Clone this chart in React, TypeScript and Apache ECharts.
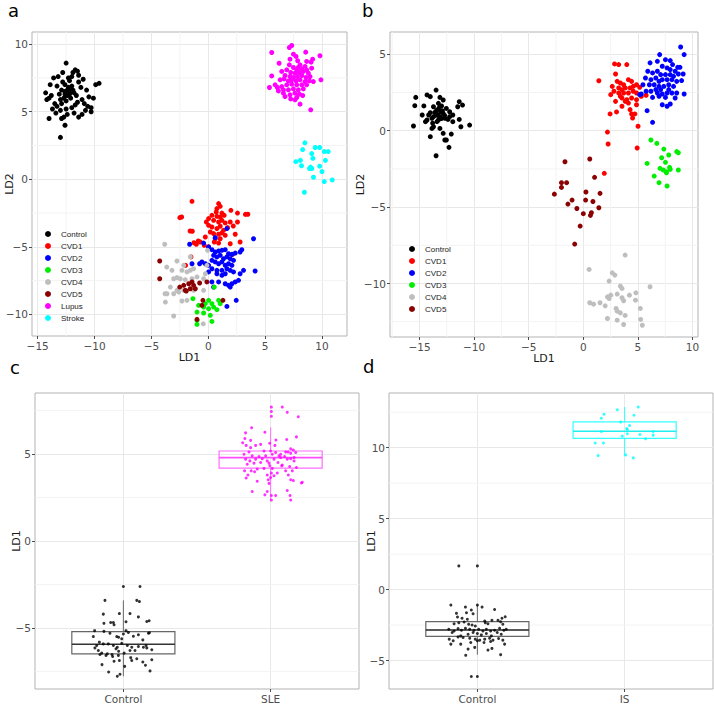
import React, { useEffect, useRef } from 'react';
import * as echarts from 'echarts';

// ---------- Panel a (LD1 vs LD2, 8 groups) ----------
const aControl = [[-12.5,8.6],[-13.0,3.1],[-14.0,4.5],[-12.6,4.0],[-9.6,7.1],[-9.9,7.0],[-11.5,8.0],[-11.4,7.7],[-10.3,5.0],[-10.3,5.3],[-14.3,6.4],[-14.2,5.9],[-13.6,7.5],[-12.8,7.9],[-12.0,7.6],[-11.4,4.6],[-11.1,4.8],[-10.8,5.1],[-12.9,4.5],[-13.3,5.4],[-13.7,5.2],[-11.7,5.5],[-11.1,5.9],[-10.5,6.1],[-10.7,6.6],[-11.2,6.8],[-12.6,6.5],[-12.4,6.2],[-12.2,6.4],[-12.7,6.0],[-12.3,6.8],[-12.9,6.6],[-12.1,6.0],[-12.5,5.8],[-13.1,6.3],[-11.9,6.6],[-12.8,7.2],[-12.2,7.3],[-13.3,6.9],[-13.8,6.2],[-11.6,6.2],[-11.4,7.2],[-13.5,5.6],[-12.0,5.3],[-12.4,4.8],[-13.0,5.1],[-11.8,4.9],[-10.9,5.6],[-10.1,6.0],[-11.9,7.9],[-12.3,7.5],[-13.9,7.0],[-14.0,6.0],[-13.4,4.9],[-11.0,7.4],[-12.6,7.0],[-12.0,6.9],[-12.9,5.6],[-11.5,5.7],[-12.5,5.2],[-13.2,7.6],[-11.7,8.1],[-10.6,5.4],[-12.7,4.6],[-12.2,6.3],[-12.4,6.6],[-12.6,6.3],[-12.1,6.7],[-11.8,6.4],[-13.0,5.9]];
const aCVD1 = [[-1.43,-1.63],[0.91,-1.8],[1.05,-2.0],[0.76,-2.17],[0.7,-2.42],[1.2,-2.5],[0.32,-2.67],[0.76,-2.74],[1.05,-2.79],[1.4,-2.67],[1.99,-2.3],[2.57,-2.5],[3.48,-2.59],[0.47,-3.04],[0.03,-2.91],[-0.17,-3.16],[0.91,-3.16],[1.2,-3.04],[1.49,-3.23],[1.93,-3.16],[2.57,-3.16],[0.03,-3.41],[0.32,-3.53],[0.76,-3.65],[1.05,-3.48],[1.34,-3.78],[1.7,-3.58],[0.18,-3.9],[0.47,-4.02],[0.91,-4.07],[1.2,-3.97],[1.49,-4.15],[0.61,-4.4],[1.05,-4.4],[0.53,-4.64],[0.91,-4.72],[2.37,-4.07],[2.8,-4.64],[1.93,-4.77],[-0.26,-4.27],[-0.7,-4.64],[-1.05,-4.81],[-1.4,-3.85],[-2.34,-2.79],[0.03,-5.0],[-0.35,-4.89],[-1.52,-5.75],[-1.99,-6.37],[2.13,-5.56],[2.2,-3.46],[3.27,-2.6],[-2.5,-2.84],[-1.6,-3.83],[-1.26,-4.7],[-0.88,-4.57]];
const aCVD2 = [[1.64,-3.65],[0.61,-4.32],[-1.64,-4.81],[-0.41,-4.72],[0.03,-5.01],[0.32,-5.21],[0.61,-5.38],[0.91,-5.31],[1.2,-5.26],[1.49,-5.21],[1.78,-5.51],[2.08,-5.56],[2.37,-5.46],[2.8,-5.38],[2.95,-5.21],[3.98,-4.4],[0.47,-5.63],[0.76,-5.75],[1.05,-5.63],[1.34,-5.88],[1.64,-5.75],[1.93,-5.88],[2.22,-6.0],[0.32,-6.0],[0.61,-6.12],[0.91,-6.25],[1.2,-6.12],[1.49,-6.37],[1.78,-6.25],[2.08,-6.37],[0.03,-6.37],[-0.26,-6.25],[-0.56,-6.12],[0.32,-6.62],[0.76,-6.74],[1.2,-6.74],[1.64,-6.62],[1.93,-6.74],[2.22,-6.86],[0.76,-6.99],[1.2,-7.11],[1.49,-6.99],[3.1,-6.74],[4.12,-6.79],[2.8,-6.99],[-1.43,-6.25],[-0.76,-6.25],[0.03,-6.86],[0.32,-7.6],[0.91,-7.6],[1.49,-7.73],[1.78,-7.85],[2.08,-7.73],[2.37,-7.6],[2.66,-7.48],[1.93,-7.98],[0.47,-7.98],[2.46,-8.96],[1.64,-9.41]];
const aCVD3 = [[0.53,-7.98],[-1.35,-8.84],[0.03,-8.96],[0.32,-9.21],[0.91,-8.96],[1.05,-9.21],[-0.85,-9.33],[-0.41,-9.46],[0.03,-9.58],[0.47,-9.46],[0.76,-9.65],[-0.99,-9.83],[-0.41,-9.9],[0.18,-10.07],[-0.99,-10.44],[0.32,-10.52],[-0.99,-10.74],[-0.26,-9.21]];
const aCVD4 = [[-3.83,-4.81],[-2.75,-6.05],[-3.19,-6.74],[-2.31,-6.74],[-1.87,-6.86],[-1.58,-6.74],[-1.29,-6.62],[-2.75,-7.28],[-3.04,-7.36],[-2.46,-7.36],[-2.02,-7.43],[-1.43,-7.36],[-0.99,-7.23],[-0.41,-7.36],[-0.26,-6.99],[-3.33,-7.98],[-2.75,-8.22],[-3.63,-8.47],[-3.04,-8.47],[-2.6,-8.35],[-2.16,-8.22],[-3.77,-9.09],[-2.31,-9.01],[-1.87,-8.96],[-1.29,-8.22],[-3.04,-10.12],[-0.41,-8.22],[-0.06,-5.26],[-1.58,-5.75],[-2.16,-6.37],[-0.12,-6.37],[-3.65,-6.5],[-3.8,-8.47],[-0.44,-10.7]];
const aCVD5 = [[-4.27,-6.05],[-4.27,-7.36],[-2.51,-7.98],[-2.02,-8.22],[-1.72,-7.73],[-1.43,-7.6],[-1.29,-7.85],[-1.58,-8.1],[-1.14,-8.1],[-0.76,-7.68],[-0.12,-7.6],[-0.47,-8.96],[1.29,-8.96],[-0.56,-9.33],[-0.99,-10.37],[-1.93,-8.27],[-2.16,-7.85]];
const aLupus = [[7.34,9.9],[7.13,9.75],[5.58,9.38],[7.49,9.26],[8.57,9.41],[9.82,9.14],[7.72,9.09],[7.19,8.89],[7.86,8.77],[9.18,8.89],[9.04,8.67],[6.23,8.59],[7.13,8.47],[8.07,8.47],[8.51,8.35],[7.49,8.27],[6.9,8.1],[7.78,8.1],[8.22,8.17],[8.65,8.1],[9.09,8.22],[6.46,7.98],[7.25,7.9],[7.63,7.85],[8.01,7.9],[8.36,7.98],[8.8,7.85],[5.58,7.65],[6.75,7.68],[7.19,7.6],[7.49,7.53],[7.84,7.6],[8.22,7.68],[8.6,7.53],[8.95,7.6],[6.32,7.36],[6.67,7.43],[7.05,7.28],[7.34,7.36],[7.72,7.28],[8.07,7.36],[8.51,7.23],[8.89,7.28],[9.91,7.36],[5.38,6.79],[6.08,6.79],[6.46,6.86],[6.9,6.99],[7.34,7.04],[7.78,6.99],[8.22,6.99],[8.65,6.99],[6.17,6.54],[6.61,6.62],[7.05,6.62],[7.49,6.69],[7.92,6.62],[8.36,6.69],[6.61,6.37],[7.19,6.25],[7.63,6.37],[8.01,6.3],[6.75,6.12],[7.25,5.95],[7.78,6.05],[8.3,6.2],[7.63,5.88],[8.07,5.56],[9.01,5.14],[5.88,6.99],[9.24,7.23],[8.65,8.72],[7.92,8.27]];
const aStroke = [[8.5,2.7],[9.4,2.35],[9.8,2.35],[10.2,2.05],[10.55,2.05],[8.3,2.2],[9.1,1.9],[8.1,1.4],[7.7,1.3],[9.2,1.55],[10.3,1.4],[8.2,1.0],[9.0,0.9],[9.1,0.8],[8.9,0.8],[9.8,0.97],[10.0,0.57],[9.25,0.15],[10.2,-0.17],[10.9,-0.05],[8.45,-0.96]];
const aGroups = ['Control', 'CVD1', 'CVD2', 'CVD3', 'CVD4', 'CVD5', 'Lupus', 'Stroke'];
const aData = [aControl, aCVD1, aCVD2, aCVD3, aCVD4, aCVD5, aLupus, aStroke];

// ---------- Panel b (LD1 vs LD2, 6 groups) ----------
const bControl = [[-13.48,2.66],[-14.31,2.34],[-14.01,2.23],[-15.34,2.18],[-13.13,2.18],[-12.83,2.01],[-15.43,1.64],[-14.6,1.62],[-11.36,1.9],[-11.06,1.68],[-11.5,1.57],[-13.27,1.79],[-12.98,1.62],[-13.72,1.57],[-12.54,1.46],[-13.42,1.35],[-14.01,1.18],[-12.83,1.14],[-12.24,1.24],[-13.47,1.03],[-13.13,0.92],[-13.86,0.81],[-12.68,0.81],[-14.31,0.7],[-13.27,0.7],[-12.39,0.74],[-11.36,0.74],[-14.45,0.59],[-11.95,0.59],[-15.55,0.31],[-13.72,0.26],[-13.13,0.15],[-10.41,0.37],[-11.21,0.26],[-13.86,0.15],[-12.83,-0.17],[-12.09,-0.22],[-14.01,-0.39],[-12.68,-0.61],[-12.54,-0.61],[-12.3,-1.09],[-13.48,-1.64],[-13.72,0.92],[-13.42,1.09],[-13.07,1.24],[-14.16,1.03],[-12.24,0.92],[-11.95,1.03],[-14.75,1.03],[-13.3,1.0],[-13.0,0.8],[-13.6,1.2],[-12.9,1.3],[-13.4,0.6],[-13.8,0.5],[-13.2,1.5],[-12.7,1.0]];
const bCVD1 = [[1.42,3.27],[2.86,4.37],[3.24,4.33],[3.98,4.33],[2.95,3.71],[2.65,2.9],[3.1,3.23],[3.39,3.12],[3.69,3.01],[4.13,3.34],[4.42,3.23],[3.24,2.8],[3.54,2.68],[3.84,2.8],[4.28,2.8],[4.57,2.9],[4.87,3.01],[5.16,2.84],[2.8,2.58],[3.24,2.47],[3.69,2.47],[4.13,2.47],[4.57,2.58],[4.87,2.47],[2.51,2.36],[3.54,2.14],[3.98,2.03],[4.42,2.14],[4.87,2.03],[5.31,2.25],[5.75,2.32],[4.87,1.7],[4.13,1.81],[3.54,1.6],[4.28,1.38],[3.04,1.23],[2.45,1.1],[4.42,1.1],[4.72,1.1],[4.51,0.83],[5.01,0.29],[2.21,-0.09],[2.27,-0.87],[4.93,-1.13],[3.39,2.25],[3.84,1.92],[2.95,1.92],[1.92,-2.79]];
const bCVD2 = [[8.91,5.48],[9.23,4.98],[6.99,4.98],[6.11,4.44],[6.78,4.54],[7.52,4.65],[7.96,4.59],[8.17,4.33],[8.64,4.15],[8.85,4.15],[7.23,4.22],[7.67,4.11],[7.96,4.0],[8.41,3.89],[5.9,3.89],[6.34,3.78],[6.78,3.89],[7.08,3.67],[7.52,3.67],[7.96,3.67],[8.26,3.56],[8.7,3.71],[9.14,3.71],[5.69,3.45],[6.19,3.34],[6.64,3.45],[6.93,3.23],[7.23,3.34],[7.67,3.34],[8.11,3.34],[8.55,3.23],[9.0,3.28],[5.46,3.01],[6.05,3.01],[6.49,3.01],[6.93,2.9],[7.37,2.9],[7.82,3.01],[8.26,2.9],[5.31,2.4],[5.75,2.58],[6.19,2.58],[6.78,2.47],[7.23,2.4],[7.67,2.47],[8.11,2.47],[8.55,2.47],[9.23,2.4],[6.34,2.18],[6.93,2.25],[7.52,2.18],[8.41,2.14],[7.23,1.7],[7.67,1.6],[7.96,1.75],[5.84,1.31],[6.34,0.55],[5.16,2.36],[6.64,2.69],[7.08,2.69],[7.82,2.69]];
const bCVD3 = [[6.19,-0.61],[6.73,-0.83],[7.37,-1.2],[7.82,-1.59],[8.55,-1.37],[8.7,-1.44],[7.17,-1.77],[7.52,-2.07],[5.84,-2.14],[7.9,-2.4],[7.96,-2.53],[7.02,-2.46],[7.32,-2.57],[7.61,-2.68],[7.61,-2.75],[8.7,-2.57],[6.49,-2.97],[6.93,-3.4],[7.67,-3.62]];
const bCVD4 = [[3.83,-8.14],[0.53,-9.08],[2.65,-9.3],[2.89,-9.45],[2.36,-9.84],[3.39,-10.17],[3.54,-10.32],[6.11,-10.21],[2.51,-10.76],[2.21,-10.87],[2.36,-10.98],[3.1,-10.69],[4.22,-10.76],[4.81,-10.61],[3.54,-10.93],[3.69,-11.13],[4.78,-11.09],[0.59,-11.26],[0.94,-11.35],[1.53,-11.26],[2.0,-11.46],[3.0,-11.63],[3.1,-11.81],[3.39,-11.92],[5.22,-11.63],[3.83,-12.09],[2.21,-12.29],[3.1,-12.4],[5.25,-12.35],[3.69,-12.68],[5.4,-12.73]];
const bCVD5 = [[-1.68,-2.03],[0.59,-1.85],[-2.0,-3.4],[-1.53,-3.4],[-2.0,-3.71],[-2.65,-4.15],[1.03,-3.05],[0.24,-4.01],[1.53,-4.1],[-1.03,-4.54],[0.21,-4.54],[0.88,-4.63],[-1.41,-4.8],[1.42,-5.04],[-0.59,-5.09],[0.0,-5.43],[0.74,-5.37],[0.65,-5.54],[-0.29,-6.24],[-0.79,-7.42]];
const bGroups = ['Control', 'CVD1', 'CVD2', 'CVD3', 'CVD4', 'CVD5'];
const bData = [bControl, bCVD1, bCVD2, bCVD3, bCVD4, bCVD5];

// ---------- Panel c (LD1 by group: Control vs SLE) ----------
const cCategories = ['Control', 'SLE'];
const cControl = [[1.0,-2.61],[1.113,-2.61],[0.875,-3.41],[1.091,-3.41],[1.109,-3.48],[0.864,-4.2],[0.973,-4.17],[1.045,-4.17],[0.914,-4.68],[0.868,-4.73],[0.932,-4.68],[0.937,-4.81],[1.018,-4.64],[1.102,-4.36],[1.159,-4.62],[1.175,-4.58],[0.955,-5.49],[0.968,-5.53],[1.0,-5.34],[1.018,-5.15],[0.805,-5.15],[0.868,-5.19],[0.909,-5.3],[1.034,-5.25],[1.068,-5.47],[1.102,-5.38],[1.132,-5.68],[1.17,-5.3],[1.177,-5.27],[0.837,-5.81],[0.819,-6.0],[0.864,-5.91],[0.898,-5.91],[0.932,-6.0],[0.959,-6.1],[0.989,-5.87],[1.027,-6.0],[1.057,-6.1],[1.102,-6.06],[1.136,-6.1],[1.154,-6.0],[1.159,-6.14],[1.193,-6.25],[0.83,-6.29],[0.853,-6.44],[0.891,-6.48],[0.923,-6.52],[0.95,-6.19],[0.968,-6.33],[1.005,-6.44],[1.045,-6.29],[1.079,-6.29],[0.807,-6.14],[0.841,-6.52],[0.882,-6.57],[0.927,-6.63],[0.966,-6.57],[1.05,-6.7],[1.091,-6.76],[1.132,-6.95],[1.193,-6.82],[0.855,-7.1],[0.937,-6.91],[0.973,-6.86],[1.009,-7.2],[1.057,-6.86],[1.15,-7.14],[1.181,-7.46],[0.9,-7.52],[0.977,-7.65],[0.959,-7.77],[0.796,-5.49],[0.989,-5.62]];
const cSLE = [[2.005,7.69],[2.079,7.69],[2.005,7.44],[2.005,7.16],[2.113,7.39],[2.188,7.14],[1.871,6.5],[1.961,6.25],[1.83,6.21],[2.175,5.98],[1.825,5.89],[2.109,5.83],[1.993,5.61],[1.81,5.64],[1.864,5.78],[2.029,5.49],[1.834,5.49],[1.898,5.49],[1.932,5.55],[2.036,5.8],[2.136,5.3],[2.154,5.23],[1.864,5.36],[1.853,5.11],[1.955,5.17],[2.0,5.17],[2.034,5.08],[2.068,4.98],[2.102,5.11],[2.118,5.11],[2.136,5.04],[2.17,5.08],[1.819,4.98],[1.875,4.89],[1.921,4.85],[1.966,4.89],[2.011,4.98],[2.057,4.89],[2.095,4.85],[2.159,4.79],[1.898,4.7],[1.943,4.73],[1.977,4.6],[2.023,4.7],[2.068,4.79],[2.113,4.7],[2.136,4.73],[1.83,4.7],[1.859,4.6],[1.887,4.47],[1.841,4.41],[1.932,4.51],[1.989,4.47],[2.05,4.51],[2.079,4.36],[2.159,4.6],[1.995,4.32],[1.868,4.03],[1.909,4.13],[1.955,4.17],[2.011,4.17],[2.075,4.32],[2.129,4.28],[2.175,4.22],[1.823,4.03],[1.846,3.79],[1.891,3.98],[2.005,3.9],[2.045,3.9],[2.102,4.03],[2.147,4.03],[1.834,3.62],[1.977,3.79],[2.023,3.75],[2.12,3.79],[1.984,3.52],[2.0,3.64],[1.909,3.43],[2.136,3.52],[2.154,3.47],[2.215,3.37],[2.209,3.33],[1.989,3.31],[1.875,2.84],[1.977,2.84],[2.113,2.9],[2.132,2.61],[1.961,2.65],[2.005,2.61],[2.034,2.61],[2.005,2.35],[2.136,2.35]];
// box stats: [position, min, Q1, median, Q3, max]
const cBoxControl = [1, -7.77, -6.48, -5.93, -5.21, -3.41];
const cBoxSLE = [2, 2.35, 4.19, 4.79, 5.17, 6.53];

// ---------- Panel d (LD1 by group: Control vs IS) ----------
const dCategories = ['Control', 'IS'];
const dControl = [[0.874,1.67],[1.0,1.67],[0.82,-1.09],[1.0,-1.09],[1.032,-1.23],[0.919,-1.23],[1.117,-1.4],[1.189,-1.91],[1.167,-2.02],[0.858,-1.67],[0.865,-1.93],[0.926,-1.63],[0.959,-1.44],[0.971,-1.7],[0.896,-2.02],[0.932,-2.09],[0.842,-2.4],[0.874,-2.33],[0.91,-2.28],[0.941,-2.44],[0.964,-2.49],[0.986,-2.56],[1.05,-2.21],[1.054,-2.33],[1.072,-2.4],[1.099,-2.16],[1.14,-2.16],[1.158,-2.26],[1.173,-2.44],[0.806,-2.79],[0.842,-2.91],[0.869,-2.74],[0.892,-2.86],[0.919,-2.72],[0.948,-2.79],[0.977,-2.86],[1.009,-2.79],[1.038,-2.91],[1.061,-2.79],[1.09,-2.91],[1.117,-2.86],[1.151,-2.72],[1.18,-2.86],[1.196,-2.79],[0.829,-3.02],[0.887,-3.26],[0.937,-3.14],[0.971,-3.02],[1.0,-3.09],[1.027,-3.19],[1.061,-3.09],[1.095,-3.26],[1.135,-3.02],[1.162,-3.14],[0.809,-3.49],[0.836,-3.6],[0.869,-3.33],[0.903,-3.37],[0.948,-3.42],[0.986,-3.49],[1.016,-3.56],[1.05,-3.49],[1.083,-3.42],[1.106,-3.56],[1.144,-3.44],[1.173,-3.56],[0.82,-3.84],[0.887,-3.84],[0.955,-3.72],[1.0,-3.6],[1.09,-3.65],[1.185,-3.84],[0.937,-4.19],[1.072,-4.26],[1.099,-4.14],[1.158,-4.58],[0.921,-4.63],[0.959,-6.12],[1.0,-6.12],[0.982,-4.07],[1.045,-3.72]];
const dIS = [[2.092,12.86],[1.95,12.67],[2.063,12.28],[1.86,12.35],[1.842,12.07],[1.973,11.81],[2.034,11.56],[2.014,11.35],[2.018,11.28],[1.842,11.14],[2.194,11.14],[2.104,10.93],[2.194,10.88],[1.984,10.81],[2.018,10.98],[2.142,10.63],[1.8,10.33],[1.856,10.33],[1.82,9.44],[2.007,9.49],[2.059,9.28]];
const dBoxControl = [1, -4.58, -3.3, -2.84, -2.26, -1.09];
const dBoxIS = [2, 9.42, 10.65, 11.16, 11.81, 12.86];

// ---------- ticks ----------
const aXTicks = [-15, -10, -5, 0, 5, 10];
const aYTicks = [-10, -5, 0, 5, 10];
const aXMinor = [-12.5, -7.5, -2.5, 2.5, 7.5];
const aYMinor = [-7.5, -2.5, 2.5, 7.5];
const bXTicks = [-15, -10, -5, 0, 5, 10];
const bYTicks = [-10, -5, 0, 5];
const bXMinor = [-17.5, -12.5, -7.5, -2.5, 2.5, 7.5];
const bYMinor = [-12.5, -7.5, -2.5, 2.5];
const cYTicks = [-5, 0, 5];
const cYMinor = [-7.5, -2.5, 2.5, 7.5];
const dYTicks = [-5, 0, 5, 10];
const dYMinor = [-2.5, 2.5, 7.5, 12.5];
const catTicks = [1, 2];

const groupColors: Record<string, string> = {
  Control: '#000000', CVD1: '#ff0000', CVD2: '#0000ff', CVD3: '#00ee00',
  CVD4: '#bebebe', CVD5: '#8b0000', Lupus: '#ff00ff', Stroke: '#00ffff',
};

const FONT = 'DejaVu Sans';
const minus = (v: number) => String(v).replace('-', '\u2212');

function valueAxis(gridIndex: number, min: number, max: number, ticks: number[], name: string, nameGap: number, formatter?: any) {
  return {
    type: 'value', gridIndex, min, max,
    name, nameLocation: 'middle', nameGap, nameMoveOverlap: false,
    nameTextStyle: { color: '#1a1a1a', fontSize: 11, fontFamily: FONT },
    axisLine: { show: false, onZero: false },
    axisTick: { show: true, customValues: ticks, length: 3, lineStyle: { color: '#4d4d4d', width: 1 } },
    axisLabel: { customValues: ticks, color: '#4d4d4d', fontSize: 10.5, fontFamily: FONT, margin: 4, formatter: formatter || minus },
    splitLine: { show: true, lineStyle: { color: '#e8e8e8', width: 1 } },
  };
}

// faint minor grid lines drawn through the axes' own scales
function minorGrid(axisIndex: number, xs: number[], ys: number[]) {
  return {
    type: 'custom', xAxisIndex: axisIndex, yAxisIndex: axisIndex, silent: true, z: 0,
    clip: false,
    data: [...xs.map((v) => [v, 0, 0]), ...ys.map((v) => [0, v, 1])],
    encode: { x: 0, y: 1 },
    renderItem: (params: any, api: any) => {
      const cs = params.coordSys;
      const kind = api.value(2);
      if (kind === 0) {
        const px = api.coord([api.value(0), 0])[0];
        return { type: 'line', shape: { x1: px, y1: cs.y, x2: px, y2: cs.y + cs.height }, style: { stroke: '#f3f3f3', lineWidth: 1 } };
      }
      const py = api.coord([0, api.value(1)])[1];
      return { type: 'line', shape: { x1: cs.x, y1: py, x2: cs.x + cs.width, y2: py }, style: { stroke: '#f3f3f3', lineWidth: 1 } };
    },
  };
}

function boxSeries(axisIndex: number, boxes: number[][], colors: string[], medColors: string[]) {
  return {
    type: 'custom', xAxisIndex: axisIndex, yAxisIndex: axisIndex, z: 1, silent: true,
    data: boxes, encode: { x: 0, y: [1, 2, 3, 4, 5] },
    renderItem: (params: any, api: any) => {
      const x = api.value(0);
      const mn = api.value(1), q1 = api.value(2), md = api.value(3), q3 = api.value(4), mx = api.value(5);
      const hw = 0.35;
      const tl = api.coord([x - hw, q3]);
      const br = api.coord([x + hw, q1]);
      const pm = api.coord([x, md]);
      const pMin = api.coord([x, mn]);
      const pMax = api.coord([x, mx]);
      const c = colors[params.dataIndex];
      const mc = medColors[params.dataIndex];
      return {
        type: 'group',
        children: [
          { type: 'line', shape: { x1: pMax[0], y1: pMax[1], x2: pMax[0], y2: tl[1] }, style: { stroke: c, lineWidth: 1 } },
          { type: 'line', shape: { x1: pMin[0], y1: br[1], x2: pMin[0], y2: pMin[1] }, style: { stroke: c, lineWidth: 1 } },
          { type: 'rect', shape: { x: tl[0], y: tl[1], width: br[0] - tl[0], height: br[1] - tl[1] }, style: { fill: 'none', stroke: c, lineWidth: 1.2 } },
          { type: 'line', shape: { x1: tl[0], y1: pm[1], x2: br[0], y2: pm[1] }, style: { stroke: mc, lineWidth: 1.6 } },
        ],
      };
    },
  };
}

export default function App() {
  const ref = useRef<HTMLDivElement>(null);
  useEffect(() => {
    if (!ref.current) return;
    const chart = echarts.init(ref.current, null, { renderer: 'svg' });

    const gridStyle = { show: true, borderColor: '#b3b3b3', borderWidth: 1, backgroundColor: 'transparent', containLabel: false };
    const series: any[] = [];

    // panel a
    series.push(minorGrid(0, aXMinor, aYMinor));
    aGroups.forEach((g, i) => {
      series.push({ type: 'scatter', name: g, xAxisIndex: 0, yAxisIndex: 0, data: aData[i], symbolSize: 5, itemStyle: { color: groupColors[g], opacity: 1 }, z: 3 });
    });
    // panel b
    series.push(minorGrid(1, bXMinor, bYMinor));
    bGroups.forEach((g, i) => {
      series.push({ type: 'scatter', name: g, xAxisIndex: 1, yAxisIndex: 1, data: bData[i], symbolSize: 5, itemStyle: { color: groupColors[g], opacity: 1 }, z: 3 });
    });
    // panel c
    series.push(minorGrid(2, [], cYMinor));
    series.push(boxSeries(2, [cBoxControl, cBoxSLE], ['#666666', '#ff6eff'], ['#333333', '#ff4dff']));
    series.push({ type: 'scatter', name: 'c-Control', xAxisIndex: 2, yAxisIndex: 2, data: cControl, symbolSize: 3, itemStyle: { color: '#000000' }, z: 3 });
    series.push({ type: 'scatter', name: 'c-SLE', xAxisIndex: 2, yAxisIndex: 2, data: cSLE, symbolSize: 3, itemStyle: { color: '#ff00ff' }, z: 3 });
    // panel d
    series.push(minorGrid(3, [], dYMinor));
    series.push(boxSeries(3, [dBoxControl, dBoxIS], ['#666666', '#33ffff'], ['#222222', '#22eeee']));
    series.push({ type: 'scatter', name: 'd-Control', xAxisIndex: 3, yAxisIndex: 3, data: dControl, symbolSize: 3, itemStyle: { color: '#000000' }, z: 3 });
    series.push({ type: 'scatter', name: 'd-IS', xAxisIndex: 3, yAxisIndex: 3, data: dIS, symbolSize: 3, itemStyle: { color: '#00ffff' }, z: 3 });

    const legendBase = {
      orient: 'vertical', icon: 'circle', itemWidth: 16, itemHeight: 6, itemGap: 4, padding: 0, z: 10,
      selectedMode: false,
      textStyle: { fontSize: 8, fontFamily: 'Liberation Sans', color: '#222222', lineHeight: 8 },
    };

    const catFmt = (cats: string[]) => (v: number) => cats[Math.round(v) - 1] || '';

    chart.setOption({
      animation: false,
      backgroundColor: '#ffffff',
      grid: [
        { ...gridStyle, left: 32, top: 32, width: 315, height: 304 },
        { ...gridStyle, left: 390, top: 32, width: 308, height: 305 },
        { ...gridStyle, left: 35, top: 393, width: 324, height: 299 },
        { ...gridStyle, left: 389, top: 393, width: 324, height: 299 },
      ],
      xAxis: [
        valueAxis(0, -15.5, 12.2, aXTicks, 'LD1', 16),
        valueAxis(1, -17.7, 10.5, bXTicks, 'LD1', 16),
        valueAxis(2, 0.4, 2.6, catTicks, '', 10, catFmt(cCategories)),
        valueAxis(3, 0.4, 2.6, catTicks, '', 10, catFmt(dCategories)),
      ],
      yAxis: [
        valueAxis(0, -11.6, 10.9, aYTicks, 'LD2', 17.5),
        valueAxis(1, -13.5, 6.46, bYTicks, 'LD2', 24.5),
        valueAxis(2, -8.5, 8.5, cYTicks, 'LD1', 13.5),
        valueAxis(3, -7.0, 13.85, dYTicks, 'LD1', 12.5),
      ],
      legend: [
        { ...legendBase, left: 45, top: 230, data: aGroups },
        { ...legendBase, left: 409, top: 245, data: bGroups },
      ],
      graphic: [
        { type: 'text', x: 8, y: 10.5, style: { text: 'a', fontSize: 18, fontFamily: FONT, fill: '#000', textVerticalAlign: 'middle' } },
        { type: 'text', x: 362, y: 10.5, style: { text: 'b', fontSize: 18, fontFamily: FONT, fill: '#000', textVerticalAlign: 'middle' } },
        { type: 'text', x: 10, y: 367.5, style: { text: 'c', fontSize: 18, fontFamily: FONT, fill: '#000', textVerticalAlign: 'middle' } },
        { type: 'text', x: 363, y: 366, style: { text: 'd', fontSize: 18, fontFamily: FONT, fill: '#000', textVerticalAlign: 'middle' } },
      ],
      series,
    });
    return () => chart.dispose();
  }, []);
  return <div ref={ref} style={{ position: 'fixed', left: 0, top: 0, width: 714, height: 704 }} />;
}
